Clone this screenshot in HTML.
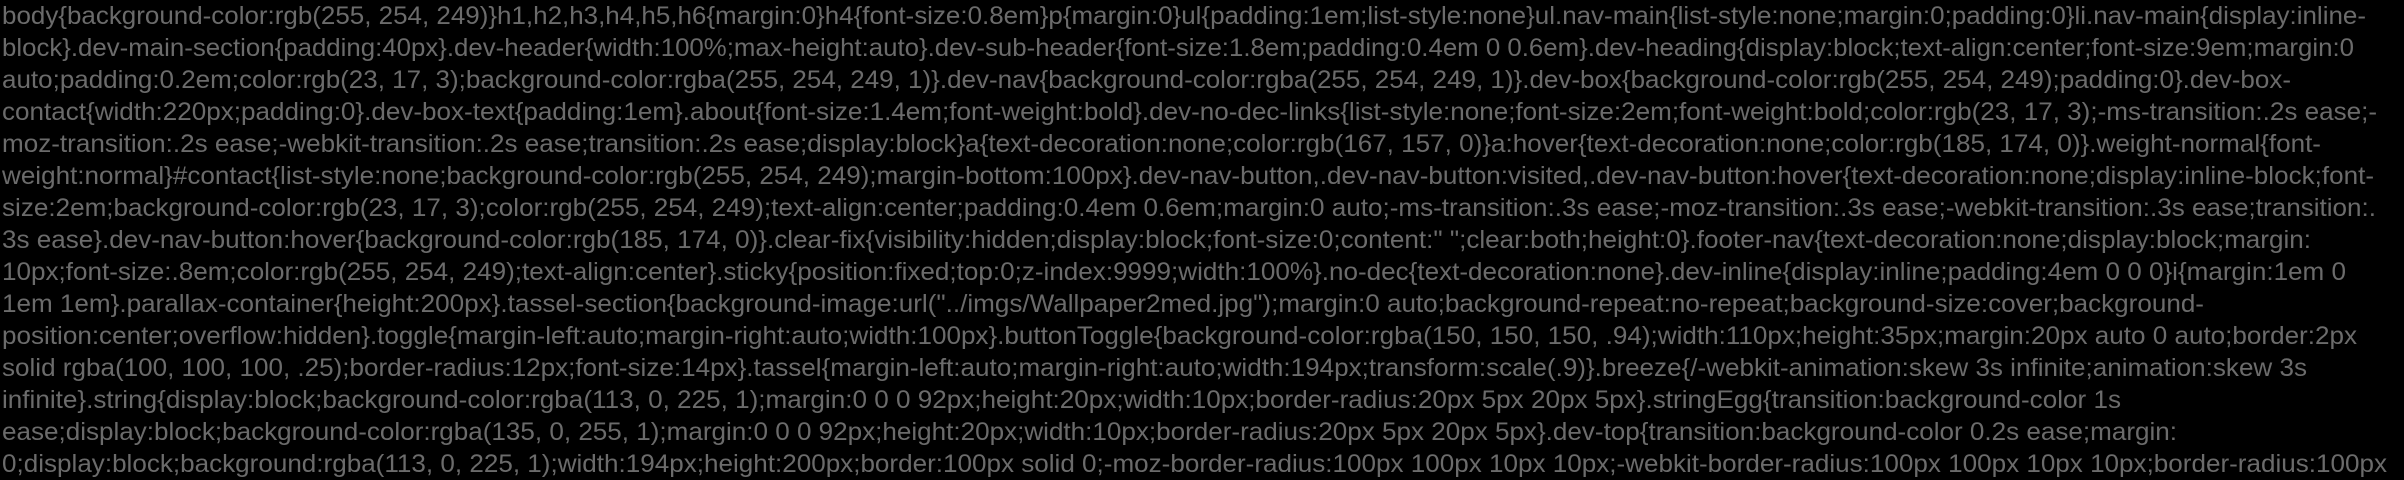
<!DOCTYPE html>
<html><head><meta charset="utf-8"><style>
html,body{margin:0;padding:0;background:#000;width:2404px;height:480px;overflow:hidden}
.l{position:absolute;left:2px;height:32px;line-height:32px;font-family:"Liberation Sans",sans-serif;font-size:25px;color:#6b6b6b;white-space:pre;transform-origin:0 0}
</style></head><body>
<div class="l" style="top:0px" data-w="2364">body{background-color:rgb(255, 254, 249)}h1,h2,h3,h4,h5,h6{margin:0}h4{font-size:0.8em}p{margin:0}ul{padding:1em;list-style:none}ul.nav-main{list-style:none;margin:0;padding:0}li.nav-main{display:inline-</div>
<div class="l" style="top:32px" data-w="2352">block}.dev-main-section{padding:40px}.dev-header{width:100%;max-height:auto}.dev-sub-header{font-size:1.8em;padding:0.4em 0 0.6em}.dev-heading{display:block;text-align:center;font-size:9em;margin:0</div>
<div class="l" style="top:64px" data-w="2289">auto;padding:0.2em;color:rgb(23, 17, 3);background-color:rgba(255, 254, 249, 1)}.dev-nav{background-color:rgba(255, 254, 249, 1)}.dev-box{background-color:rgb(255, 254, 249);padding:0}.dev-box-</div>
<div class="l" style="top:96px" data-w="2375">contact{width:220px;padding:0}.dev-box-text{padding:1em}.about{font-size:1.4em;font-weight:bold}.dev-no-dec-links{list-style:none;font-size:2em;font-weight:bold;color:rgb(23, 17, 3);-ms-transition:.2s ease;-</div>
<div class="l" style="top:128px" data-w="2319">moz-transition:.2s ease;-webkit-transition:.2s ease;transition:.2s ease;display:block}a{text-decoration:none;color:rgb(167, 157, 0)}a:hover{text-decoration:none;color:rgb(185, 174, 0)}.weight-normal{font-</div>
<div class="l" style="top:160px" data-w="2372">weight:normal}#contact{list-style:none;background-color:rgb(255, 254, 249);margin-bottom:100px}.dev-nav-button,.dev-nav-button:visited,.dev-nav-button:hover{text-decoration:none;display:inline-block;font-</div>
<div class="l" style="top:192px" data-w="2374">size:2em;background-color:rgb(23, 17, 3);color:rgb(255, 254, 249);text-align:center;padding:0.4em 0.6em;margin:0 auto;-ms-transition:.3s ease;-moz-transition:.3s ease;-webkit-transition:.3s ease;transition:.</div>
<div class="l" style="top:224px" data-w="2309">3s ease}.dev-nav-button:hover{background-color:rgb(185, 174, 0)}.clear-fix{visibility:hidden;display:block;font-size:0;content:" ";clear:both;height:0}.footer-nav{text-decoration:none;display:block;margin:</div>
<div class="l" style="top:256px" data-w="2344">10px;font-size:.8em;color:rgb(255, 254, 249);text-align:center}.sticky{position:fixed;top:0;z-index:9999;width:100%}.no-dec{text-decoration:none}.dev-inline{display:inline;padding:4em 0 0 0}i{margin:1em 0</div>
<div class="l" style="top:288px" data-w="2202">1em 1em}.parallax-container{height:200px}.tassel-section{background-image:url("../imgs/Wallpaper2med.jpg");margin:0 auto;background-repeat:no-repeat;background-size:cover;background-</div>
<div class="l" style="top:320px" data-w="2355">position:center;overflow:hidden}.toggle{margin-left:auto;margin-right:auto;width:100px}.buttonToggle{background-color:rgba(150, 150, 150, .94);width:110px;height:35px;margin:20px auto 0 auto;border:2px</div>
<div class="l" style="top:352px" data-w="2305">solid rgba(100, 100, 100, .25);border-radius:12px;font-size:14px}.tassel{margin-left:auto;margin-right:auto;width:194px;transform:scale(.9)}.breeze{/-webkit-animation:skew 3s infinite;animation:skew 3s</div>
<div class="l" style="top:384px" data-w="2119">infinite}.string{display:block;background-color:rgba(113, 0, 225, 1);margin:0 0 0 92px;height:20px;width:10px;border-radius:20px 5px 20px 5px}.stringEgg{transition:background-color 1s</div>
<div class="l" style="top:416px" data-w="2175">ease;display:block;background-color:rgba(135, 0, 255, 1);margin:0 0 0 92px;height:20px;width:10px;border-radius:20px 5px 20px 5px}.dev-top{transition:background-color 0.2s ease;margin:</div>
<div class="l" style="top:448px" data-w="2385">0;display:block;background:rgba(113, 0, 225, 1);width:194px;height:200px;border:100px solid 0;-moz-border-radius:100px 100px 10px 10px;-webkit-border-radius:100px 100px 10px 10px;border-radius:100px</div>
<script>
document.querySelectorAll('.l').forEach(function(e){
  var w=e.getBoundingClientRect().width, t=+e.getAttribute('data-w');
  if(w>0) e.style.transform='scaleX('+(t/w)+')';
});
</script>
</body></html>
